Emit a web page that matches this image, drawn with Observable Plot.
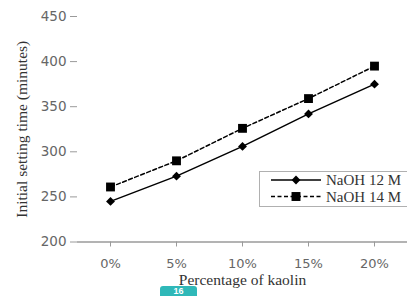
<!DOCTYPE html>
<html><head><meta charset="utf-8">
<script src="https://cdn.jsdelivr.net/npm/d3@7"></script>
<script src="https://cdn.jsdelivr.net/npm/@observablehq/plot@0.6"></script>
<style>
html,body{margin:0;padding:0;background:#fff;}
#wrap{position:relative;width:407px;height:296px;overflow:hidden;}
#legend{position:absolute;left:259px;top:171px;width:160px;height:36px;border:1px solid #b0b0b0;box-sizing:border-box;background:#fff;}
#badge{position:absolute;left:160px;top:286px;width:37px;height:16px;background:#2fb8b8;border-radius:3px;color:#fff;font:bold 9px "Liberation Sans";text-align:center;line-height:10px;}
</style></head>
<body><div id="wrap"></div>
<script>
const categories = ["0%", "5%", "10%", "15%", "20%"];
const naoh12 = [245, 273, 306, 342, 375];
const naoh14 = [261, 290, 326, 359, 395];
const seriesNames = ["NaOH 12 M", "NaOH 14 M"];
const yTicks = [200, 250, 300, 350, 400, 450];

const rows = [];
categories.forEach((c, i) => {
  rows.push({cat: c, v: naoh12[i], s: seriesNames[0]});
  rows.push({cat: c, v: naoh14[i], s: seriesNames[1]});
});
const r12 = rows.filter(d => d.s === seriesNames[0]);
const r14 = rows.filter(d => d.s === seriesNames[1]);

const chart = Plot.plot({
  width: 407, height: 296,
  marginLeft: 77, marginRight: 0, marginTop: 16, marginBottom: 54.5,
  style: {background: "#fff", overflow: "visible"},
  x: {type: "band", domain: categories, padding: 0, label: null},
  y: {domain: [200, 450], label: null},
  marks: [
    Plot.ruleX([0], {x: () => null, frameAnchor: "left", stroke: "#9a9a9a", strokeWidth: 1.5}),
    Plot.ruleY([200], {stroke: "#9a9a9a", strokeWidth: 1.5}),
    Plot.axisY({ticks: yTicks, tickSize: 7, tickPadding: 4, stroke: "#9a9a9a", fill: "#666",
      fontSize: 13.5, fontFamily: "DejaVu Sans", label: null}),
    Plot.axisY({ticks: [], label: "Initial setting time (minutes)", labelAnchor: "center",
      labelArrow: "none", labelOffset: 62, fontSize: 15.5, fontFamily: "Liberation Serif", fill: "#333"}),
    Plot.axisX({tickSize: 5, tickPadding: 12, stroke: "#9a9a9a", fill: "#666",
      fontSize: 13, fontFamily: "DejaVu Sans", label: null}),
    Plot.text(["Percentage of kaolin"], {frameAnchor: "bottom", dy: 43, fontSize: 15.5,
      fontFamily: "Liberation Serif", fill: "#333"}),
    Plot.line(r12, {x: "cat", y: "v", stroke: "#000", strokeWidth: 1.5}),
    Plot.line(r14, {x: "cat", y: "v", stroke: "#000", strokeWidth: 1.5, strokeDasharray: "4,2.5"}),
    Plot.dot(r12, {x: "cat", y: "v", symbol: "diamond2", r: 4, fill: "#000"}),
    Plot.dot(r14, {x: "cat", y: "v", symbol: "square", r: 5, fill: "#000"})
  ]
});
const wrap = document.getElementById("wrap");
wrap.appendChild(chart);

// legend
const lg = document.createElement("div");
lg.id = "legend";
const ns = "http://www.w3.org/2000/svg";
const sv = document.createElementNS(ns, "svg");
sv.setAttribute("width", 160); sv.setAttribute("height", 36);
[0, 1].forEach(i => {
  const y = i === 0 ? 8 : 24.5;
  const ln = document.createElementNS(ns, "line");
  ln.setAttribute("x1", 11); ln.setAttribute("x2", 61);
  ln.setAttribute("y1", y); ln.setAttribute("y2", y);
  ln.setAttribute("stroke", "#000"); ln.setAttribute("stroke-width", 1.5);
  if (i === 1) ln.setAttribute("stroke-dasharray", "4,2.5");
  sv.appendChild(ln);
  const p = document.createElementNS(ns, "path");
  const sym = i === 0 ? d3.symbol(d3.symbolDiamond2, 50) : d3.symbol(d3.symbolSquare, 80);
  p.setAttribute("d", sym());
  p.setAttribute("transform", `translate(36,${y})`);
  p.setAttribute("fill", "#000");
  sv.appendChild(p);
  const t = document.createElementNS(ns, "text");
  t.setAttribute("x", 66); t.setAttribute("y", y + 5);
  t.setAttribute("font-family", "Liberation Serif"); t.setAttribute("font-size", 15);
  t.setAttribute("fill", "#333");
  t.textContent = seriesNames[i];
  sv.appendChild(t);
});
lg.appendChild(sv);
wrap.appendChild(lg);

const b = document.createElement("div");
b.id = "badge"; b.textContent = "16";
wrap.appendChild(b);
</script></body></html>
